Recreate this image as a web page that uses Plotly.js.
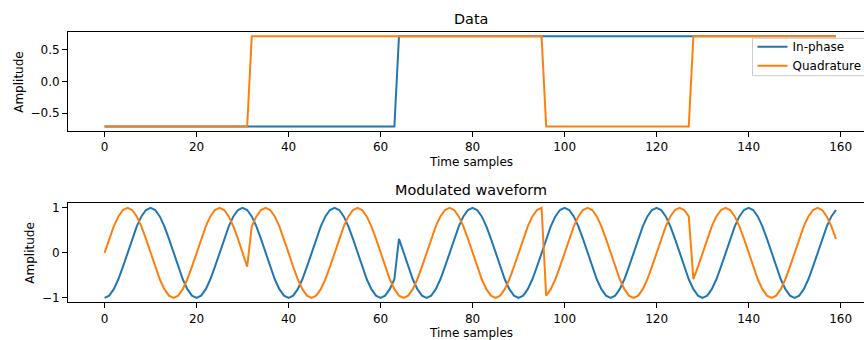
<!DOCTYPE html>
<html>
<head>
<meta charset="utf-8">
<script src="https://cdn.plot.ly/plotly-3.0.1.min.js"></script>
<style>
  html, body { margin: 0; padding: 0; background: #fff; }
  #chart { width: 864px; height: 340px; }
</style>
</head>
<body>
<div id="chart"></div>
<script>
// ---- Data ----
const seriesNames = ["In-phase", "Quadrature"];
const samplesPerSymbol = 32;
const inPhaseSymbols = [-0.707, -0.707, 0.707, 0.707, 0.707];
const quadratureSymbols = [-0.707, 0.707, 0.707, -0.707, 0.707];

const inPhaseModulated = [
  -1, -0.951, -0.809, -0.588, -0.309, 0, 0.309, 0.588, 0.809, 0.951, 1, 0.951, 0.809, 0.588, 0.309, 0, -0.309, -0.588, -0.809, -0.951,
  -1, -0.951, -0.809, -0.588, -0.309, 0, 0.309, 0.588, 0.809, 0.951, 1, 0.951, 0.809, 0.588, 0.309, 0, -0.309, -0.588, -0.809, -0.951,
  -1, -0.951, -0.809, -0.588, -0.309, 0, 0.309, 0.588, 0.809, 0.951, 1, 0.951, 0.809, 0.588, 0.309, 0, -0.309, -0.588, -0.809, -0.951,
  -1, -0.951, -0.809, -0.588, 0.309, 0, -0.309, -0.588, -0.809, -0.951, -1, -0.951, -0.809, -0.588, -0.309, 0, 0.309, 0.588, 0.809, 0.951,
  1, 0.951, 0.809, 0.588, 0.309, 0, -0.309, -0.588, -0.809, -0.951, -1, -0.951, -0.809, -0.588, -0.309, 0, 0.309, 0.588, 0.809, 0.951,
  1, 0.951, 0.809, 0.588, 0.309, 0, -0.309, -0.588, -0.809, -0.951, -1, -0.951, -0.809, -0.588, -0.309, 0, 0.309, 0.588, 0.809, 0.951,
  1, 0.951, 0.809, 0.588, 0.309, 0, -0.309, -0.588, -0.809, -0.951, -1, -0.951, -0.809, -0.588, -0.309, 0, 0.309, 0.588, 0.809, 0.951,
  1, 0.951, 0.809, 0.588, 0.309, 0, -0.309, -0.588, -0.809, -0.951, -1, -0.951, -0.809, -0.588, -0.309, 0, 0.309, 0.588, 0.809, 0.951
];

const quadratureModulated = [
  0, 0.309, 0.588, 0.809, 0.951, 1, 0.951, 0.809, 0.588, 0.309, 0, -0.309, -0.588, -0.809, -0.951, -1, -0.951, -0.809, -0.588, -0.309,
  0, 0.309, 0.588, 0.809, 0.951, 1, 0.951, 0.809, 0.588, 0.309, 0, -0.309, 0.588, 0.809, 0.951, 1, 0.951, 0.809, 0.588, 0.309,
  0, -0.309, -0.588, -0.809, -0.951, -1, -0.951, -0.809, -0.588, -0.309, 0, 0.309, 0.588, 0.809, 0.951, 1, 0.951, 0.809, 0.588, 0.309,
  0, -0.309, -0.588, -0.809, -0.951, -1, -0.951, -0.809, -0.588, -0.309, 0, 0.309, 0.588, 0.809, 0.951, 1, 0.951, 0.809, 0.588, 0.309,
  0, -0.309, -0.588, -0.809, -0.951, -1, -0.951, -0.809, -0.588, -0.309, 0, 0.309, 0.588, 0.809, 0.951, 1, -0.951, -0.809, -0.588, -0.309,
  0, 0.309, 0.588, 0.809, 0.951, 1, 0.951, 0.809, 0.588, 0.309, 0, -0.309, -0.588, -0.809, -0.951, -1, -0.951, -0.809, -0.588, -0.309,
  0, 0.309, 0.588, 0.809, 0.951, 1, 0.951, 0.809, -0.588, -0.309, 0, 0.309, 0.588, 0.809, 0.951, 1, 0.951, 0.809, 0.588, 0.309,
  0, -0.309, -0.588, -0.809, -0.951, -1, -0.951, -0.809, -0.588, -0.309, 0, 0.309, 0.588, 0.809, 0.951, 1, 0.951, 0.809, 0.588, 0.309
];

const xTickVals = [0, 20, 40, 60, 80, 100, 120, 140, 160];
const yTopTickVals = [-0.5, 0, 0.5];
const yTopTickText = ["\u22120.5", "0.0", "0.5"];
const yBotTickVals = [-1, 0, 1];
const yBotTickText = ["\u22121", "0", "1"];

// ---- Build series ----
function expandSymbols(symbols) {
  const out = [];
  symbols.forEach(v => { for (let i = 0; i < samplesPerSymbol; i++) out.push(v); });
  return out;
}
const inPhaseData = expandSymbols(inPhaseSymbols);
const quadratureData = expandSymbols(quadratureSymbols);
const timeSamples = inPhaseData.map((_, i) => i);

const BLUE = "#1f77b4", ORANGE = "#ff7f0e";
const FONT = "DejaVu Sans, sans-serif";
const FS = 12, TFS = 14.4;

const traces = [
  { x: timeSamples, y: inPhaseData, name: seriesNames[0], type: "scatter", mode: "lines",
    line: { color: BLUE, width: 2 }, xaxis: "x", yaxis: "y" },
  { x: timeSamples, y: quadratureData, name: seriesNames[1], type: "scatter", mode: "lines",
    line: { color: ORANGE, width: 2 }, xaxis: "x", yaxis: "y" },
  { x: timeSamples, y: inPhaseModulated, name: seriesNames[0], type: "scatter", mode: "lines",
    line: { color: BLUE, width: 2 }, xaxis: "x2", yaxis: "y2", showlegend: false },
  { x: timeSamples, y: quadratureModulated, name: seriesNames[1], type: "scatter", mode: "lines",
    line: { color: ORANGE, width: 2 }, xaxis: "x2", yaxis: "y2", showlegend: false }
];

const H = 340, L = 68, W = 864 - 68;
const py = p => 1 - p / H;
const px = p => (p - L) / W;

const xCommon = {
  range: [-7.95, 165.09], tickvals: xTickVals, ticks: "outside", ticklen: 5, tickwidth: 1,
  tickcolor: "#000", showline: true, linecolor: "#000", linewidth: 1, mirror: true,
  showgrid: false, zeroline: false, tickfont: { family: FONT, size: FS, color: "#000" }
};
const yCommon = {
  ticks: "outside", ticklen: 5, tickwidth: 1, tickcolor: "#000", showline: true,
  linecolor: "#000", linewidth: 1, showgrid: false, zeroline: false,
  tickfont: { family: FONT, size: FS, color: "#000" }
};

const ann = (text, x, y, size, extra) => Object.assign({
  text: text, xref: "paper", yref: "paper", x: x, y: y, xanchor: "center", yanchor: "middle",
  showarrow: false, font: { family: FONT, size: size, color: "#000" }
}, extra || {});

const layout = {
  width: 864, height: 340,
  margin: { l: L, r: 0, t: 0, b: 0, pad: 0, autoexpand: false },
  paper_bgcolor: "#fff", plot_bgcolor: "#fff",
  showlegend: true,
  legend: {
    x: px(752.5), y: py(32.3), xanchor: "left", yanchor: "top",
    bgcolor: "rgba(0,0,0,0)", borderwidth: 0,
    font: { family: FONT, size: FS, color: "#000" }, tracegroupgap: 0
  },
  shapes: [
    { type: "rect", xref: "paper", yref: "paper", layer: "above",
      x0: px(752.5), x1: px(880), y0: py(75.7), y1: py(38.3),
      fillcolor: "rgba(255,255,255,0.8)", line: { color: "#cccccc", width: 1 } }
  ],
  xaxis: Object.assign({}, xCommon, { domain: [0, 1], anchor: "y" }),
  yaxis: Object.assign({}, yCommon, { domain: [py(131), py(31.7)], range: [-0.7778, 0.7778],
    tickvals: yTopTickVals, ticktext: yTopTickText, anchor: "x" }),
  xaxis2: Object.assign({}, xCommon, { domain: [0, 1], anchor: "y2" }),
  yaxis2: Object.assign({}, yCommon, { domain: [py(302.3), py(203.3)], range: [-1.1, 1.1],
    tickvals: yBotTickVals, ticktext: yBotTickText, anchor: "x2" }),
  annotations: [
    ann("Data", px(471), py(18.5), TFS),
    ann("Modulated waveform", px(471), py(190), TFS),
    ann("Time samples", px(471), py(161.5), FS),
    ann("Time samples", px(471), py(332.5), FS),
    ann("Amplitude", px(18.3), py(81.5), FS, { textangle: -90 }),
    ann("Amplitude", px(30), py(252.7), FS, { textangle: -90 })
  ]
};

Plotly.newPlot("chart", traces, layout, { staticPlot: true, displayModeBar: false });
</script>
</body>
</html>
